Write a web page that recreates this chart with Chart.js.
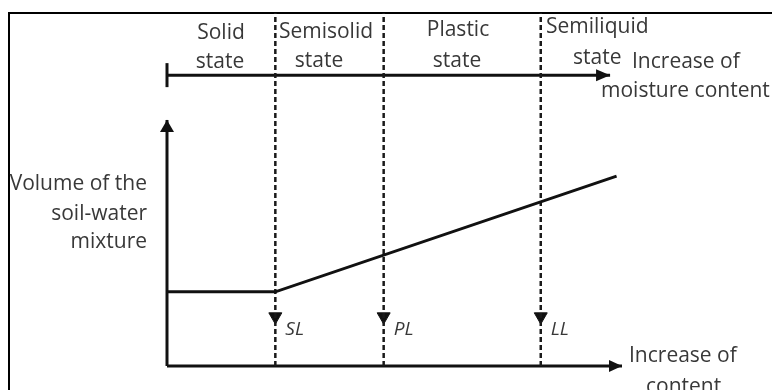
<!DOCTYPE html>
<html>
<head>
<meta charset="utf-8">
<script src="https://cdn.jsdelivr.net/npm/chart.js@4/dist/chart.umd.min.js"></script>
<style>
  html, body { margin: 0; padding: 0; background: #fff; }
  canvas { display: block; }
</style>
</head>
<body>
<canvas id="chart" width="772" height="390"></canvas>
<script>
// --- DATA ---
const limitLabels = ['SL', 'PL', 'LL'];
const limitValues = [20, 40, 69];            // moisture content at each limit
const volumeX = [0, 20, 83];                 // moisture content
const volumeY = [21, 21, 53.8];              // volume of soil-water mixture
const stateLabels = [['Solid', 'state'], ['Semisolid', 'state'], ['Plastic', 'state'], ['Semiliquid', 'state']];
const moistureLabel = ['Increase of', 'moisture content'];
const xAxisLabel = ['Increase of', 'content'];
const yAxisLabel = ['Volume of the', 'soil-water', 'mixture'];

// axis extents (data units)
const X_MAX = 84, Y_MAX = 100;
const yArrowEnd = 69.7;
const moistureY = 82.4, moistureEnd = 81.8, tickLow = 79, tickHigh = 85.8;
const limitMarkerY = 14;

// --- STYLE ---
const INK = '#111';
const TEXT = '#383838';
const FONT = '"Open Sans", sans-serif';

const line = (points, extra) => Object.assign({
    data: points, showLine: true, borderColor: INK, borderWidth: 3,
    pointRadius: 0, clip: false, fill: false
}, extra);

const datasets = [
    // volume curve
    line(volumeX.map((x, i) => ({ x, y: volumeY[i] })), { borderWidth: 3 }),
    // dashed limit lines
    ...limitValues.map(v => line([{ x: v, y: 0 }, { x: v, y: Y_MAX }], { borderWidth: 2.5, borderDash: [5, 3], borderColor: '#1a1a1a' })),
    // down markers on limit lines
    {
        data: limitValues.map(v => ({ x: v, y: limitMarkerY })),
        showLine: false, pointStyle: 'triangle', rotation: 180, pointRadius: 7.5,
        backgroundColor: INK, borderColor: INK, borderWidth: 1, clip: false
    },
    // axes
    line([{ x: 0, y: 0 }, { x: X_MAX, y: 0 }], { arrowHead: { length: 13, width: 12 } }),
    line([{ x: 0, y: 0 }, { x: 0, y: yArrowEnd }], { arrowHead: { length: 12, width: 14 } }),
    // moisture content arrow
    line([{ x: 0, y: moistureY }, { x: moistureEnd, y: moistureY }], { arrowHead: { length: 14, width: 12 } }),
    line([{ x: 0, y: tickLow }, { x: 0, y: tickHigh }], { borderWidth: 3 })
];

// draws an arrow head at the last point of flagged datasets
const arrowHeads = {
    id: 'arrowHeads',
    afterDatasetsDraw(chart) {
        const ctx = chart.ctx;
        chart.data.datasets.forEach((ds, i) => {
            if (!ds.arrowHead) return;
            const pts = chart.getDatasetMeta(i).data;
            const a = pts[pts.length - 2], b = pts[pts.length - 1];
            const ang = Math.atan2(b.y - a.y, b.x - a.x);
            const { length, width } = ds.arrowHead;
            ctx.save();
            ctx.translate(b.x, b.y);
            ctx.rotate(ang);
            ctx.beginPath();
            ctx.moveTo(0, 0);
            ctx.lineTo(-length, -width / 2);
            ctx.lineTo(-length, width / 2);
            ctx.closePath();
            ctx.fillStyle = INK;
            ctx.fill();
            ctx.restore();
        });
    }
};

// frame + text annotations
const annotations = {
    id: 'annotations',
    beforeDraw(chart) {
        const ctx = chart.ctx;
        ctx.save();
        ctx.fillStyle = '#fff';
        ctx.fillRect(0, 0, chart.width, chart.height);
        ctx.strokeStyle = '#000';
        ctx.lineWidth = 2;
        ctx.beginPath();
        ctx.moveTo(9, chart.height);
        ctx.lineTo(9, 13);
        ctx.lineTo(chart.width, 13);
        ctx.stroke();
        ctx.restore();
    },
    afterDraw(chart) {
        const ctx = chart.ctx;
        const xs = chart.scales.x;
        ctx.save();
        ctx.fillStyle = TEXT;
        ctx.font = '21px ' + FONT;
        const put = (t, x, y, align) => { ctx.textAlign = align || 'left'; ctx.fillText(t, x, y); };

        // state names between limits
        put(stateLabels[0][0], 221, 39, 'center'); put(stateLabels[0][1], 220, 68, 'center');
        put(stateLabels[1][0], 326, 38, 'center'); put(stateLabels[1][1], 319, 67, 'center');
        put(stateLabels[2][0], 458, 36, 'center'); put(stateLabels[2][1], 457, 67, 'center');
        put(stateLabels[3][0], 546, 33); put(stateLabels[3][1], 573, 64);

        put(moistureLabel[0], 632, 68); put(moistureLabel[1], 601, 97);
        yAxisLabel.forEach((t, i) => put(t, 147, [190, 220, 248][i], 'right'));
        put(xAxisLabel[0], 629, 362); put(xAxisLabel[1], 646, 393);

        ctx.font = 'italic 19px ' + FONT;
        limitLabels.forEach((t, i) => put(t, xs.getPixelForValue(limitValues[i]) + 10, 335));
        ctx.restore();
    }
};

new Chart(document.getElementById('chart'), {
    type: 'scatter',
    data: { datasets },
    options: {
        responsive: false,
        animation: false,
        devicePixelRatio: 1,
        layout: { padding: { left: 167, right: 150, top: 13, bottom: 24 } },
        scales: {
            x: { type: 'linear', min: 0, max: X_MAX, display: false },
            y: { type: 'linear', min: 0, max: Y_MAX, display: false }
        },
        plugins: { legend: { display: false }, tooltip: { enabled: false } }
    },
    plugins: [annotations, arrowHeads]
});
</script>
</body>
</html>
